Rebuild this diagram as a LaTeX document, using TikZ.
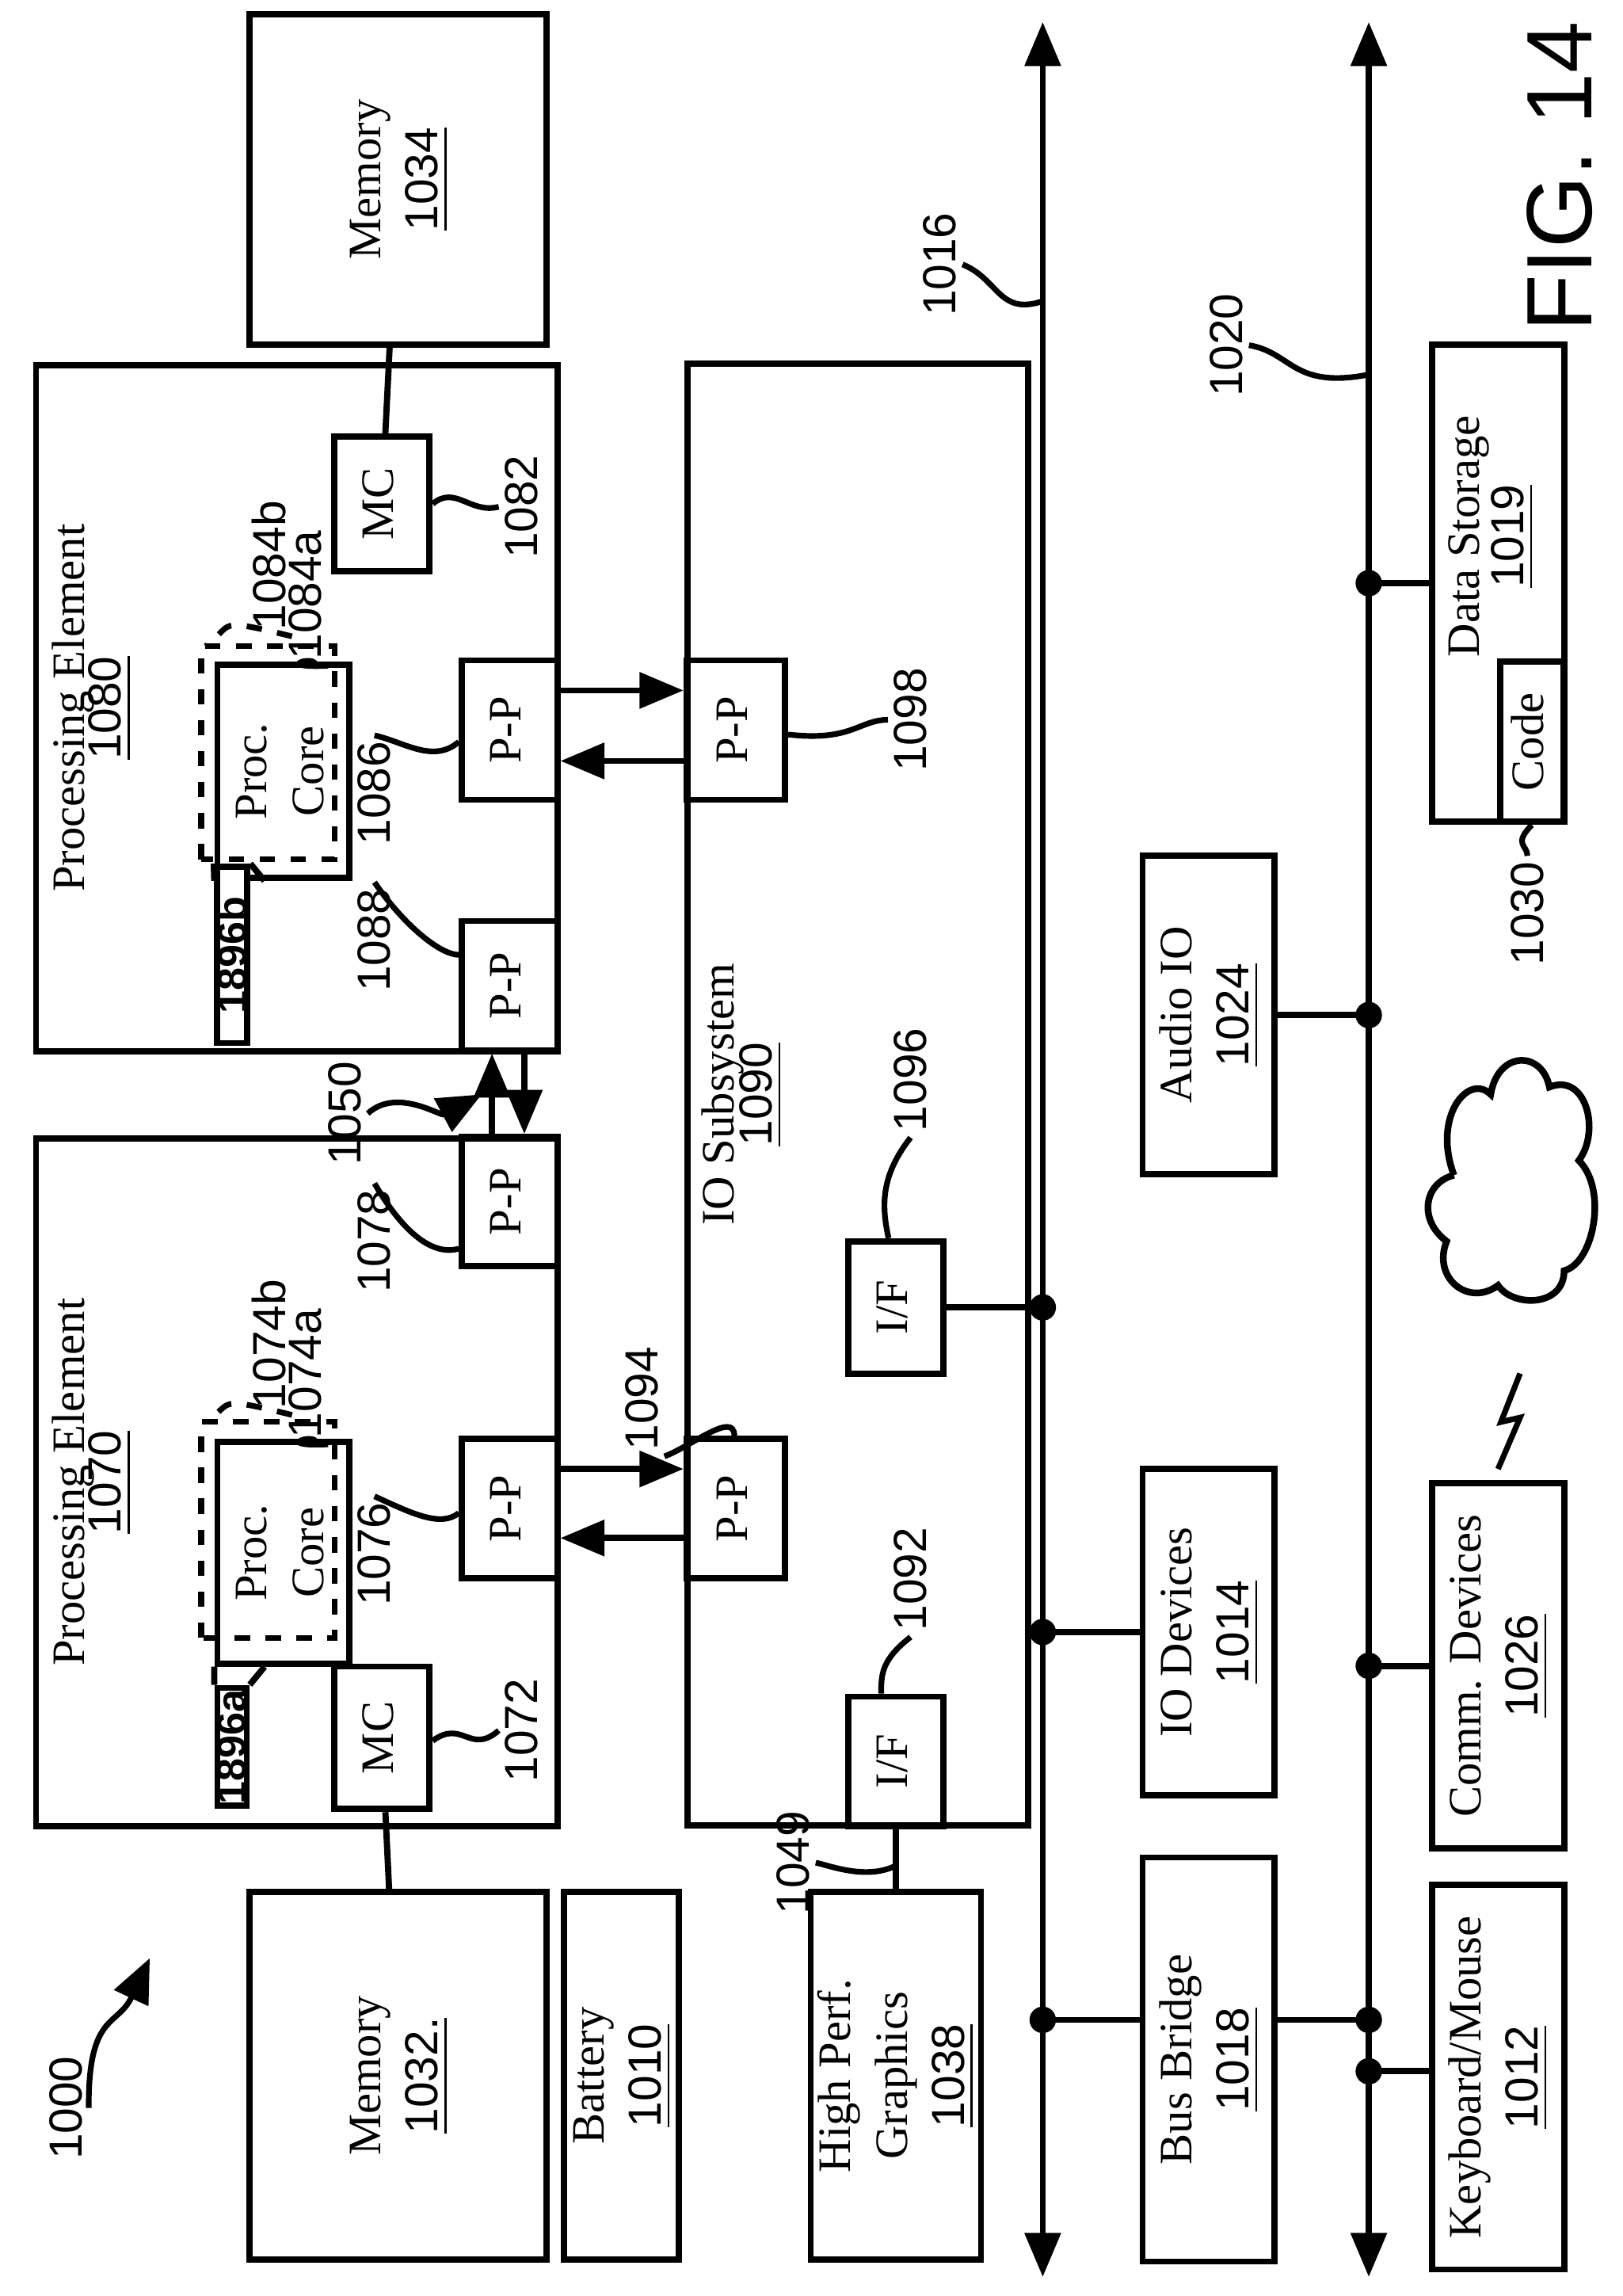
\documentclass[tikz,border=0pt]{standalone}
\usepackage{fontspec}
\setmainfont{Liberation Serif}
\setsansfont{Liberation Sans}
\usepackage{graphicx}
\usetikzlibrary{positioning,arrows.meta}

\tikzset{
  box/.style={draw, line width=1.2pt, inner sep=0pt, font=\small},
  lab/.style={font=\sffamily\small, rotate=90, inner sep=1pt},
  lead/.style={line width=1.1pt},
  link/.style={line width=1.2pt},
  dot/.style={circle, fill, inner sep=0pt, minimum size=1.8mm},
  big/.style={-{Triangle[length=3mm,width=2.4mm]}, line width=1.2pt}
}
\newcommand{\txt}[1]{\rotatebox{90}{\begin{tabular}{c}#1\end{tabular}}}
\newcommand{\num}[1]{\underline{\sffamily #1}}
% box by centre and size, in pixels of the page
\newcommand{\bx}[6]{\node[box, minimum width=#4*0.1mm, minimum height=#5*0.1mm] (#1) at (#2,#3) {\txt{#6}};}

\begin{document}
\begin{tikzpicture}[x=0.1mm, y=-0.1mm]
\useasboundingbox (0,0) rectangle (1105,1563);

% processing elements and memories
\bx{pe80}{202}{482}{355}{467}{}
\bx{pe70}{202}{1009}{355}{468}{}
\node[lab, font=\small] at (50,482) {Processing Element};
\node[lab, font=\small] at (75,482) {\num{1080}};
\node[lab, font=\small] at (50,1009) {Processing Element};
\node[lab, font=\small] at (75,1009) {\num{1070}};
\bx{mem34}{271}{122}{202}{225}{Memory\\\num{1034}}
\bx{mem32}{271}{1413}{202}{250}{Memory\\\num{1032.}}
\bx{bat}{423}{1413}{78}{250}{Battery\\\num{1010}}
\bx{gfx}{610}{1413}{110}{250}{High Perf.\\Graphics\\\num{1038}}
\bx{iosub}{584}{745}{232}{995}{}
\node[lab, font=\small] at (492,745) {IO Subsystem};
\node[lab, font=\small] at (518,745) {\num{1090}};

% inner blocks
\bx{mc82}{260}{343}{65}{90}{MC}
\bx{mc72}{260}{1183}{65}{97}{MC}
\bx{pp86}{347}{497}{65}{95}{P-P}
\bx{pp88}{347}{671}{65}{88}{P-P}
\bx{pp78}{347}{818}{65}{87}{P-P}
\bx{pp76}{347}{1027}{65}{95}{P-P}
\bx{pp98}{501}{497}{67}{95}{P-P}
\bx{pp94}{501}{1027}{67}{95}{P-P}
\bx{if96}{610}{890}{65}{90}{I/F}
\bx{if92}{610}{1199}{65}{88}{I/F}
\draw[line width=1.1pt, dashed] (137,585) rectangle (228,440);
\draw[line width=1.1pt, dashed] (137,1115) rectangle (228,968);
\bx{core80}{193}{525}{90}{145}{Proc.\\Core}
\bx{core70}{193}{1057}{90}{151}{Proc.\\Core}
\node[box, fill=white, minimum width=1.9mm, minimum height=12mm, font=\footnotesize] (c96b) at (158,650) {\rotatebox{90}{\sffamily\bfseries 1896b}};
\node[box, fill=white, minimum width=1.9mm, minimum height=8mm, font=\footnotesize] (c96a) at (158,1189) {\rotatebox{90}{\sffamily\bfseries 1896a}};
\draw[link] (c96b.north west) -- (core80.south west);
\draw[link] (c96b.north east) -- ([xshift=-6mm]core80.south east);
\draw[link] (c96a.north west) -- (core70.south west);
\draw[link] (c96a.north east) -- ([xshift=-6mm]core70.south east);

% buses
\coordinate (b16t) at (710,15); \coordinate (b16b) at (710,1550);
\coordinate (b20t) at (932,15); \coordinate (b20b) at (932,1550);
\draw[big, {Triangle[length=3mm,width=2.4mm]}-{Triangle[length=3mm,width=2.4mm]}] (b16t) -- (b16b);
\draw[big, {Triangle[length=3mm,width=2.4mm]}-{Triangle[length=3mm,width=2.4mm]}] (b20t) -- (b20b);

% devices
\bx{iodev}{823}{1111}{90}{222}{IO Devices\\\num{1014}}
\bx{bridge}{823}{1402}{90}{275}{Bus Bridge\\\num{1018}}
\bx{audio}{823}{691}{90}{217}{Audio IO\\\num{1024}}
\bx{kbd}{1020}{1414}{90}{252}{Keyboard/Mouse\\\num{1012}}
\bx{comm}{1020}{1134}{90}{218}{Comm. Devices\\\num{1026}}
\bx{store}{1020}{397}{90}{325}{}
\node[lab, font=\small] at (1000,365) {Data Storage};
\node[lab, font=\small] at (1030,365) {\num{1019}};
\bx{code}{1043}{505}{43}{90}{Code}

% connections
\draw[link] (mem34) -- (mc82);
\draw[link] (mem32) -- (mc72);
\draw[big] (pp86.east |- 0,470) -- (pp98.west |- 0,470);
\draw[big] (pp98.west |- 0,518) -- (pp86.east |- 0,518);
\draw[big] (pp76.east |- 0,1000) -- (pp94.west |- 0,1000);
\draw[big] (pp94.west |- 0,1047) -- (pp76.east |- 0,1047);
\draw[big] (pp78.north -| 335,0) -- (pp88.south -| 335,0);
\draw[big] (pp88.south -| 357,0) -- (pp78.north -| 357,0);
\draw[link] (gfx.north -| 610,0) -- (if92.south -| 610,0);
\draw[link] (if96.east) -- (b16t |- if96.east) node[dot] {};
\draw[link] (b16t |- iodev.west) node[dot] {} -- (iodev.west);
\draw[link] (b16t |- 0,1375) node[dot] {} -- (bridge.west |- 0,1375);
\draw[link] (bridge.east |- 0,1375) -- (b20t |- 0,1375) node[dot] {};
\draw[link] (audio.east) -- (b20t |- audio.east) node[dot] {};
\draw[link] (b20t |- store.west) node[dot] {} -- (store.west);
\draw[link] (b20t |- comm.west) node[dot] {} -- (comm.west);
\draw[link] (b20t |- 0,1410) node[dot] {} -- (kbd.west |- 0,1410);

% cloud and wireless link
\draw[line width=1.3pt] (990,800) .. controls (975,760) and (1000,730) .. (1015,745)
  .. controls (1020,715) and (1050,715) .. (1055,740)
  .. controls (1080,730) and (1090,770) .. (1075,790)
  .. controls (1095,810) and (1085,860) .. (1065,865)
  .. controls (1065,890) and (1030,890) .. (1020,875)
  .. controls (1000,890) and (975,870) .. (985,845)
  .. controls (965,830) and (970,805) .. (990,800);
\draw[line width=1.1pt] (1035,935) -- (1022,968) -- (1035,965) -- (1020,1000);

% reference numerals and leaders
\node[lab] (l16) at (640,180) {1016};
\draw[lead] (l16.south) .. controls (680,190) and (680,215) .. (710,205);
\node[lab] (l20) at (835,235) {1020};
\draw[lead] (l20.south) .. controls (880,240) and (880,265) .. (932,255);
\node[lab] (l98) at (620,490) {1098};
\draw[lead] (l98.north) .. controls (585,490) and (580,505) .. (pp98.east |- 0,500);
\node[lab] (l86) at (255,540) {1086};
\draw[lead] (l86.east) .. controls (275,505) and (295,520) .. (pp86.west |- 0,505);
\node[lab] (l88) at (255,640) {1088};
\draw[lead] (l88.east) .. controls (275,630) and (300,650) .. (pp88.west |- 0,650);
\node[lab] (l84b) at (183,385) {1084b};
\draw[lead, dashed] (l84b.south west) .. controls (145,420) and (160,425) .. (140,440);
\node[lab] (l84a) at (208,405) {1084a};
\draw[lead] (l84a.south west) .. controls (185,455) and (215,445) .. (215,453);
\node[lab] (l82) at (355,345) {1082};
\draw[lead] (mc82.east |- 0,343) .. controls (310,330) and (320,350) .. (l82.north);
\node[lab] (l78) at (255,845) {1078};
\draw[lead] (l78.east) .. controls (275,840) and (295,855) .. (pp78.west |- 0,850);
\node[lab] (l74b) at (183,915) {1074b};
\draw[lead, dashed] (l74b.south west) .. controls (145,950) and (160,955) .. (140,968);
\node[lab] (l74a) at (208,935) {1074a};
\draw[lead] (l74a.south west) .. controls (185,985) and (215,975) .. (215,982);
\node[lab] (l94) at (437,952) {1094};
\draw[lead] (l94.south west) .. controls (470,985) and (500,960) .. (pp94.north -| 500,0);
\node[lab] (l96) at (620,735) {1096};
\draw[lead] (l96.west) .. controls (600,800) and (600,820) .. (if96.north -| 605,0);
\node[lab] (l92) at (620,1075) {1092};
\draw[lead] (l92.west) .. controls (600,1130) and (600,1140) .. (if92.north -| 600,0);
\node[lab] (l76) at (255,1058) {1076};
\draw[lead] (l76.east) .. controls (280,1030) and (300,1040) .. (pp76.west |- 0,1030);
\node[lab] (l72) at (355,1178) {1072};
\draw[lead] (mc72.east |- 0,1185) .. controls (315,1170) and (320,1195) .. (l72.north);
\node[lab] (l49) at (540,1268) {1049};
\draw[lead] (l49.south) .. controls (565,1270) and (590,1280) .. (610,1270);
\node[lab] (l30) at (1040,622) {1030};
\draw[lead] (l30.east) .. controls (1040,575) and (1030,575) .. (code.south);
\node[lab] (l50) at (235,758) {1050};
\draw[lead, -{Triangle[length=3mm,width=2.5mm]}] (l50.south) .. controls (270,740) and (300,760) .. (328,745);
\node[lab] (l00) at (45,1435) {1000};
\draw[lead, -{Triangle[length=3mm,width=2.5mm]}] (l00.south) .. controls (60,1370) and (80,1380) .. (102,1333);
\node[rotate=90, font=\sffamily\fontsize{18}{20}\selectfont] (fig) at (1062,120) {FIG. 14};
\end{tikzpicture}
\end{document}
